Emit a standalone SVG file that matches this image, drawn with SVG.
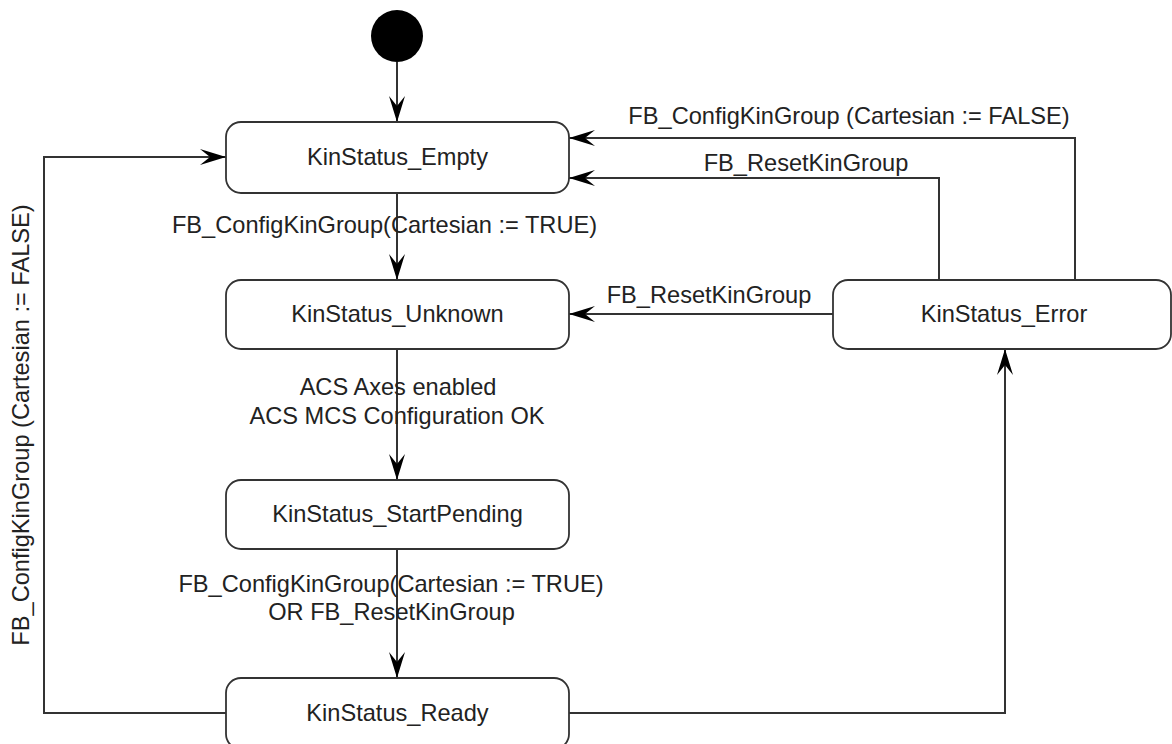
<svg xmlns="http://www.w3.org/2000/svg" width="1172" height="744" viewBox="0 0 1172 744">
<style>
.state{fill:#fff;stroke:#333;stroke-width:1.8}
.lbl{font-family:"Liberation Sans",Arial,sans-serif;font-size:23.6px;fill:#222;text-anchor:middle}
.edge{fill:none;stroke:#333;stroke-width:2}
</style>
<defs>
<marker id="arr" markerUnits="userSpaceOnUse" viewBox="0 0 26 16" refX="26" refY="8" markerWidth="26" markerHeight="16" orient="auto">
<path d="M0,0 L26,8 L0,16 L10,8 Z" fill="#000"/>
</marker>
</defs>
<rect width="1172" height="744" fill="#fff"/>
<g id="connectors">
<path class="edge" d="M397,62 L397,122" marker-end="url(#arr)"/>
<path class="edge" d="M397,193 L397,280" marker-end="url(#arr)"/>
<path class="edge" d="M397,349 L397,480" marker-end="url(#arr)"/>
<path class="edge" d="M397,549 L397,678" marker-end="url(#arr)"/>
<path class="edge" d="M226,713 L44,713 L44,157 L226,157" marker-end="url(#arr)"/>
<path class="edge" d="M569,713 L1005,713 L1005,349" marker-end="url(#arr)"/>
<path class="edge" d="M833,314 L569,314" marker-end="url(#arr)"/>
<path class="edge" d="M939,280 L939,178 L569,178" marker-end="url(#arr)"/>
<path class="edge" d="M1075,280 L1075,138 L569,138" marker-end="url(#arr)"/>
<text class="lbl" x="384.5" y="233">FB_ConfigKinGroup(Cartesian := TRUE)</text>
<text class="lbl" x="398" y="395">ACS Axes enabled</text>
<text class="lbl" x="397" y="424">ACS MCS Configuration OK</text>
<text class="lbl" x="391" y="592">FB_ConfigKinGroup(Cartesian := TRUE)</text>
<text class="lbl" x="391.5" y="620">OR FB_ResetKinGroup</text>
<text class="lbl" x="709" y="303">FB_ResetKinGroup</text>
<text class="lbl" x="806" y="171">FB_ResetKinGroup</text>
<text class="lbl" x="849" y="124">FB_ConfigKinGroup (Cartesian := FALSE)</text>
<text class="lbl" transform="translate(29,425) rotate(-90)">FB_ConfigKinGroup (Cartesian := FALSE)</text>
</g>
<g id="initial">
<circle cx="397" cy="36" r="26" fill="#000"/>
</g>
<g id="empty">
<rect class="state" x="226" y="122" width="343" height="71" rx="15"/>
<text class="lbl" x="397.5" y="165">KinStatus_Empty</text>
</g>
<g id="unknown">
<rect class="state" x="226" y="280" width="343" height="69" rx="15"/>
<text class="lbl" x="397.5" y="322">KinStatus_Unknown</text>
</g>
<g id="startpending">
<rect class="state" x="226" y="480" width="343" height="69" rx="15"/>
<text class="lbl" x="397.5" y="522">KinStatus_StartPending</text>
</g>
<g id="ready">
<rect class="state" x="226" y="678" width="343" height="71" rx="15"/>
<text class="lbl" x="397.5" y="721">KinStatus_Ready</text>
</g>
<g id="error">
<rect class="state" x="833" y="280" width="338" height="69" rx="15"/>
<text class="lbl" x="1004" y="322">KinStatus_Error</text>
</g>
</svg>
